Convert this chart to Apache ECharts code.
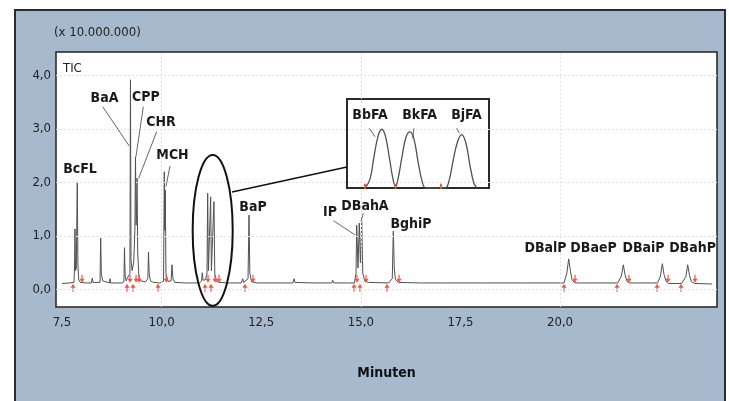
<!DOCTYPE html>
<html>
<head>
<meta charset="utf-8">
<script src="https://cdn.jsdelivr.net/npm/echarts@6/dist/echarts.min.js"></script>
<style>
  html, body { margin: 0; padding: 0; background: #fff; }
  #main { width: 729px; height: 401px; }
</style>
</head>
<body>
<div id="main"></div>
<script>
// TIC trace (Minuten, x 10.000.000)
var chromTime = [7.50, 7.70, 7.80, 7.815, 7.826, 7.84, 7.86, 7.884, 7.90, 7.92, 7.96, 8.10, 8.24, 8.26, 8.28,
  8.455, 8.471, 8.488, 8.52, 8.56, 8.69, 8.705, 8.72, 9.00, 9.055, 9.069, 9.085, 9.11, 9.15, 9.205, 9.219,
  9.232, 9.26, 9.30, 9.33, 9.345, 9.36, 9.372, 9.385, 9.40, 9.43, 9.47, 9.60, 9.655, 9.671, 9.69, 9.72,
  9.80, 9.95, 10.05, 10.068, 10.08, 10.093, 10.11, 10.16, 10.24, 10.261, 10.285, 10.33, 10.60, 10.95,
  11.005, 11.022, 11.04, 11.10, 11.14, 11.157, 11.175, 11.205, 11.232, 11.25, 11.29, 11.315, 11.335,
  11.38, 11.45, 11.70, 12.00, 12.036, 12.06, 12.10, 12.17, 12.194, 12.215, 12.26, 12.40, 13.00, 13.30,
  13.323, 13.35, 13.80, 14.27, 14.295, 14.32, 14.84, 14.88, 14.897, 14.93, 14.962, 14.99, 15.023, 15.05,
  15.10, 15.20, 15.70, 15.79, 15.816, 15.84, 15.87, 15.95, 16.50, 17.00, 18.00, 19.00, 20.00, 20.10,
  20.17, 20.218, 20.26, 20.30, 20.37, 21.45, 21.54, 21.589, 21.63, 21.68, 21.74, 22.45, 22.52, 22.568,
  22.61, 22.66, 22.72, 23.05, 23.16, 23.205, 23.25, 23.30, 23.38, 23.82];
var chromSignal = [0.11, 0.12, 0.13, 0.40, 1.13, 0.35, 0.40, 2.01, 0.45, 0.18, 0.13, 0.12, 0.12, 0.21, 0.13,
  0.13, 0.96, 0.30, 0.16, 0.13, 0.12, 0.20, 0.12, 0.12, 0.14, 0.78, 0.25, 0.16, 0.16, 0.30, 3.92,
  0.55, 0.35, 0.50, 1.10, 2.48, 1.20, 1.40, 2.08, 0.70, 0.25, 0.16, 0.14, 0.20, 0.70, 0.30, 0.16,
  0.13, 0.12, 0.15, 2.20, 1.10, 1.86, 0.30, 0.15, 0.16, 0.46, 0.20, 0.13, 0.12, 0.12,
  0.16, 0.31, 0.17, 0.18, 0.30, 1.80, 0.35, 0.32, 1.73, 0.35, 0.33, 1.64, 0.30,
  0.15, 0.13, 0.12, 0.12, 0.20, 0.13, 0.13, 0.20, 1.39, 0.30, 0.14, 0.12, 0.12, 0.12,
  0.20, 0.13, 0.12, 0.12, 0.17, 0.12, 0.12, 0.30, 1.20, 0.40, 1.24, 0.50, 1.28, 0.30,
  0.15, 0.13, 0.12, 0.20, 1.09, 0.40, 0.18, 0.13, 0.12, 0.12, 0.12, 0.12, 0.12, 0.12,
  0.30, 0.57, 0.35, 0.18, 0.12, 0.12, 0.25, 0.46, 0.28, 0.15, 0.12, 0.12, 0.25, 0.48,
  0.28, 0.15, 0.11, 0.11, 0.24, 0.46, 0.26, 0.14, 0.11, 0.10];

// integration markers (red arrows)
var startMarks = [7.776, 9.132, 9.282, 9.910, 11.089, 11.240, 12.093, 14.829, 14.979, 15.657, 20.100, 21.430, 22.434, 23.036];
var endMarks = [8.002, 9.207, 9.359, 9.433, 10.114, 11.165, 11.341, 11.441, 12.294, 14.904, 15.130, 15.959, 20.376, 21.731, 22.710, 23.388];

// peak labels
var peakNames = ['BcFL', 'BaA', 'CPP', 'CHR', 'MCH', 'BaP', 'IP', 'DBahA', 'BghiP', 'DBalP', 'DBaeP', 'DBaiP', 'DBahP'];
var labelTime = [7.952, 8.567, 9.608, 9.985, 10.274, 12.294, 14.227, 15.105, 16.260, 19.636, 20.841, 22.096, 23.326];
var labelSignal = [2.252, 3.579, 3.598, 3.131, 2.514, 1.533, 1.449, 1.561, 1.224, 0.766, 0.766, 0.766, 0.766];
var leaderFrom = [[8.522, 3.417], [9.541, 3.417], [9.877, 2.950], [10.211, 2.308], [14.310, 1.286], [15.063, 1.424]];
var leaderTo = [[9.189, 2.682], [9.357, 2.482], [9.425, 2.079], [10.110, 1.921], [14.854, 1.019], [15.005, 1.267]];

// ellipse round BbFA/BkFA/BjFA and connector to the inset
var ellipseTime = [10.78, 11.785];
var ellipseSignal = [-0.308, 2.514];
var connector = [[11.767, 1.822], [14.654, 2.290]];

// inset (enlarged BbFA, BkFA, BjFA)
var insetTime = [11.138, 11.1486, 11.157, 11.1655, 11.1733, 11.1813, 11.1898, 11.1972, 11.2025, 11.2077, 11.2162,
  11.2246, 11.2331, 11.2415, 11.25, 11.2585, 11.2669, 11.307, 11.3155, 11.3239, 11.3335, 11.3423, 11.3514,
  11.3599, 11.3683, 11.3746];
var insetSignal = [0, 0.10, 0.35, 0.58, 0.66, 0.58, 0.33, 0.10, 0.015, 0.10, 0.35,
  0.57, 0.63, 0.55, 0.30, 0.08, 0, 0, 0.08, 0.30, 0.52, 0.60, 0.50,
  0.25, 0.05, 0];
var insetNames = ['BbFA', 'BkFA', 'BjFA'];
var insetLabelTime = [11.1486, 11.2532, 11.3525];
var insetLeaderFrom = [[11.1471, 0.671], [11.2415, 0.671], [11.3318, 0.671]];
var insetLeaderTo = [[11.1592, 0.576], [11.2388, 0.558], [11.3373, 0.615]];
var insetMarks = [11.138, 11.2025, 11.2986];

var xTicks = [7.5, 10, 12.5, 15, 17.5, 20];
var yTicks = [0, 1, 2, 3, 4];
var xGrid = [10, 15, 20];

var FONT = '"Liberation Sans Narrow", "DejaVu Sans Condensed", sans-serif';
var comma = function (v) { return v.toFixed(1).replace('.', ','); };
var clear = 'rgba(0,0,0,0)';

var chart = echarts.init(document.getElementById('main'));

var trace = chromTime.map(function (t, i) { return [t, chromSignal[i]]; });
var inset = insetTime.map(function (t, i) { return [t, insetSignal[i]]; });
var labelData = peakNames.map(function (n, i) { return [labelTime[i], labelSignal[i], n]; });
var insetLabelData = insetNames.map(function (n, i) { return [insetLabelTime[i], 0.82, n]; });
var leaders = leaderFrom.map(function (p, i) { return { coords: [p, leaderTo[i]] }; });
leaders.push({ coords: connector, lineStyle: { color: '#111', width: 1.6 } });
var insetLeaders = insetLeaderFrom.map(function (p, i) { return { coords: [p, insetLeaderTo[i]] }; });

var gridLines = yTicks.map(function (v) { return { yAxis: v }; })
  .concat(xGrid.map(function (t) { return { xAxis: t }; }));

var labelStyle = {
  show: true, position: 'inside', formatter: function (p) { return p.data[2]; },
  fontSize: 14, fontWeight: 'bold', color: '#1a1a1a', fontFamily: FONT,
  textBorderWidth: 0, opacity: 1
};

var option = {
  animation: false,
  title: [
    { text: '(x 10.000.000)', left: 54, top: 26, padding: 0,
      textStyle: { fontSize: 13, fontWeight: 'normal', color: '#222', fontFamily: FONT } },
    { text: 'TIC', left: 63, top: 62, padding: 0,
      textStyle: { fontSize: 13, fontWeight: 'normal', color: '#222', fontFamily: FONT } }
  ],
  grid: [
    { left: 56, right: 12, top: 52, bottom: 94, show: true, backgroundColor: '#fff',
      borderColor: '#222', borderWidth: 1.5 },
    { left: 347, top: 99, width: 142, height: 89, show: true, backgroundColor: 'transparent',
      borderColor: '#2a2a2a', borderWidth: 2, z: 5 }
  ],
  xAxis: [
    { type: 'value', gridIndex: 0, min: 7.35, max: 23.94,
      axisLine: { show: false }, axisTick: { show: false }, splitLine: { show: false },
      axisLabel: { customValues: xTicks, formatter: comma, margin: 9, fontSize: 13,
        color: '#222', fontFamily: FONT },
      name: 'Minuten', nameLocation: 'middle', nameGap: 59,
      nameTextStyle: { fontSize: 14, fontWeight: 'bold', color: '#111', fontFamily: FONT } },
    { type: 'value', gridIndex: 1, min: 11.10, max: 11.40, show: false }
  ],
  yAxis: [
    { type: 'value', gridIndex: 0, min: -0.33, max: 4.44,
      axisLine: { show: false }, axisTick: { show: false }, splitLine: { show: false },
      axisLabel: { customValues: yTicks, formatter: comma, margin: 5, fontSize: 13,
        color: '#222', fontFamily: FONT } },
    { type: 'value', gridIndex: 1, min: 0, max: 1, show: false }
  ],
  series: [
    { type: 'line', xAxisIndex: 0, yAxisIndex: 0, data: trace, symbol: 'none',
      lineStyle: { color: '#505050', width: 1 }, z: 3,
      markLine: { silent: true, symbol: 'none', label: { show: false },
        lineStyle: { color: '#e2e2e2', type: [2, 2], width: 1 }, data: gridLines } },
    { type: 'scatter', xAxisIndex: 0, yAxisIndex: 0, z: 4,
      data: startMarks.map(function (t) { return [t, 0.03]; }),
      symbol: 'path://M5,0 L10,5 L6.2,5 L6.2,10 L3.8,10 L3.8,5 L0,5 Z', symbolSize: [5, 8],
      itemStyle: { color: '#ee5a44', opacity: 1 } },
    { type: 'scatter', xAxisIndex: 0, yAxisIndex: 0, z: 4,
      data: endMarks.map(function (t) { return [t, 0.2]; }),
      symbol: 'path://M5,10 L10,5 L6.2,5 L6.2,0 L3.8,0 L3.8,5 L0,5 Z', symbolSize: [5, 8],
      itemStyle: { color: '#ee5a44', opacity: 1 } },
    { type: 'lines', coordinateSystem: 'cartesian2d', xAxisIndex: 0, yAxisIndex: 0, z: 6,
      data: leaders, lineStyle: { color: '#666', width: 1, opacity: 1, curveness: 0 } },
    { type: 'scatter', xAxisIndex: 0, yAxisIndex: 0, z: 7, data: labelData,
      symbolSize: 1, itemStyle: { color: clear, opacity: 1 }, label: labelStyle },
    { type: 'line', xAxisIndex: 1, yAxisIndex: 1, data: inset, symbol: 'none', smooth: 0.4,
      lineStyle: { color: '#505050', width: 1.3 }, z: 6 },
    { type: 'scatter', xAxisIndex: 1, yAxisIndex: 1, z: 7,
      data: insetMarks.map(function (t) { return [t, 0.02]; }),
      symbol: 'rect', symbolSize: [2, 5], itemStyle: { color: '#ee5a44', opacity: 1 } },
    { type: 'lines', coordinateSystem: 'cartesian2d', xAxisIndex: 1, yAxisIndex: 1, z: 6,
      data: insetLeaders, lineStyle: { color: '#666', width: 1, opacity: 1, curveness: 0 } },
    { type: 'scatter', xAxisIndex: 1, yAxisIndex: 1, z: 7, data: insetLabelData,
      symbolSize: 1, itemStyle: { color: clear, opacity: 1 }, label: labelStyle }
  ],
  graphic: [
    { id: 'frame', type: 'rect', z: -10, silent: true,
      shape: { x: 15, y: 10, width: 710, height: 400 },
      style: { fill: '#a6b9cd', stroke: '#2b2b2b', lineWidth: 2 } }
  ]
};
chart.setOption(option);

// ellipse placed through the axes
var p0 = chart.convertToPixel({ xAxisIndex: 0, yAxisIndex: 0 }, [ellipseTime[0], ellipseSignal[0]]);
var p1 = chart.convertToPixel({ xAxisIndex: 0, yAxisIndex: 0 }, [ellipseTime[1], ellipseSignal[1]]);
chart.setOption({
  graphic: [
    { id: 'frame', type: 'rect', z: -10, silent: true,
      shape: { x: 15, y: 10, width: 710, height: 400 },
      style: { fill: '#a6b9cd', stroke: '#2b2b2b', lineWidth: 2 } },
    { id: 'ring', type: 'ellipse', z: 100, silent: true,
      shape: { cx: (p0[0] + p1[0]) / 2, cy: (p0[1] + p1[1]) / 2,
        rx: Math.abs(p1[0] - p0[0]) / 2, ry: Math.abs(p1[1] - p0[1]) / 2 },
      style: { fill: 'none', stroke: '#111', lineWidth: 2 } }
  ]
});
</script>
</body>
</html>
